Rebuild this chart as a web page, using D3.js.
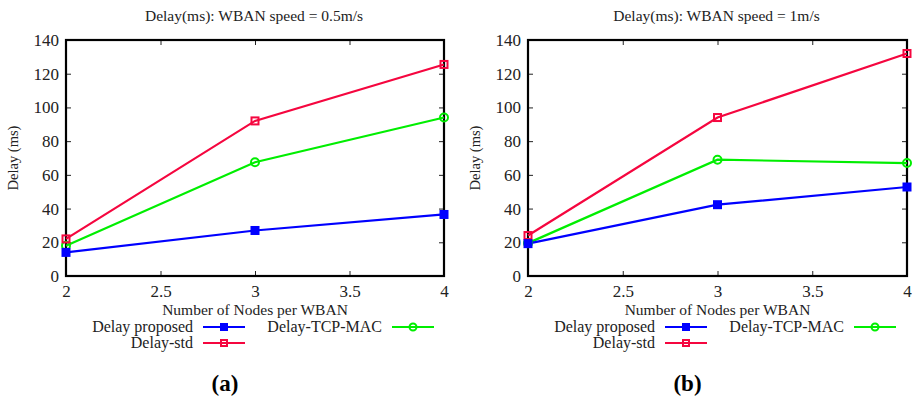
<!DOCTYPE html>
<html>
<head>
<meta charset="utf-8">
<script src="https://cdn.jsdelivr.net/npm/d3@7"></script>
<style>
  body { margin: 0; background: #fff; }
</style>
</head>
<body>
<script>
// data
var nodes = [2, 3, 4];
var xTicks = [2, 2.5, 3, 3.5, 4];
var yTicks = [0, 20, 40, 60, 80, 100, 120, 140];
var seriesNames = ["Delay proposed", "Delay-std", "Delay-TCP-MAC"];

var proposedA = [14, 27, 36.5];
var stdA = [22, 92, 125.5];
var tcpA = [18, 67.5, 94];

var proposedB = [19.2, 42.3, 52.8];
var stdB = [24, 94, 132];
var tcpB = [19.5, 69, 67];

var titles = ["Delay(ms): WBAN speed = 0.5m/s", "Delay(ms): WBAN speed = 1m/s"];
var panelTags = ["(a)", "(b)"];

var colours = ["#0000ff", "#f5063f", "#00ee00"];
var serif = "'Liberation Serif', 'Times New Roman', 'DejaVu Serif', serif";

var width = 916, height = 399;

var svg = d3.select("body")
            .append("svg")
            .attr("width", width)
            .attr("height", height);

function addText(g, x, y, size, str, anchor){
  return g.append("text")
          .attr("x", x).attr("y", y)
          .attr("text-anchor", anchor || "middle")
          .attr("font-family", serif)
          .attr("font-size", size)
          .attr("fill", "#222")
          .text(str);
}

function drawMarker(g, kind, x, y, colour, size){
  if (kind == 0){
    g.append("rect")
     .attr("x", x - size/2).attr("y", y - size/2)
     .attr("width", size).attr("height", size)
     .attr("fill", colour);
  }
  else if (kind == 1){
    g.append("rect")
     .attr("x", x - size/2 + 1).attr("y", y - size/2 + 1)
     .attr("width", size - 2).attr("height", size - 2)
     .attr("fill", "none").attr("stroke", colour).attr("stroke-width", 2);
  }
  else{
    g.append("circle")
     .attr("cx", x).attr("cy", y).attr("r", size/2 - 0.5)
     .attr("fill", "none").attr("stroke", colour).attr("stroke-width", 2);
  }
}

function drawPanel(left, right, seriesList, title, tag){
  var top = 40, bottom = 276;

  var x = d3.scaleLinear().domain([2, 4]).range([left, right]);
  var y = d3.scaleLinear().domain([0, 140]).range([bottom, top]);

  var g = svg.append("g");

  addText(g, (left + right)/2 - 1, 21, 15.5, title);

  // axes with inward ticks, mirrored on top and right
  var bottomAxis = d3.axisBottom(x).tickValues(xTicks).tickSize(-5).tickPadding(9)
                     .tickFormat(d3.format("~g"));
  var topAxis = d3.axisTop(x).tickValues(xTicks).tickSize(-5).tickFormat("");
  var leftAxis = d3.axisLeft(y).tickValues(yTicks).tickSize(-5).tickPadding(7);
  var rightAxis = d3.axisRight(y).tickValues(yTicks).tickSize(-5).tickFormat("");

  [[bottomAxis, "translate(0," + bottom + ")"],
   [topAxis, "translate(0," + top + ")"],
   [leftAxis, "translate(" + left + ",0)"],
   [rightAxis, "translate(" + right + ",0)"]].forEach(function(a){
    var ax = g.append("g").attr("transform", a[1]).call(a[0])
              .attr("font-family", serif).attr("font-size", 17);
    ax.select(".domain").remove();
    ax.selectAll(".tick line").attr("stroke", "#222").attr("stroke-width", 1);
    ax.selectAll(".tick text").attr("fill", "#222");
  });

  // frame
  g.append("rect")
   .attr("x", left).attr("y", top)
   .attr("width", right - left).attr("height", bottom - top)
   .attr("fill", "none").attr("stroke", "#000").attr("stroke-width", 2.2);

  // axis labels
  addText(g, 0, 0, 14.5, "Delay (ms)")
   .attr("transform", "translate(" + (left - 48) + "," + ((top + bottom)/2) + ") rotate(-90)");

  addText(g, (left + right)/2, 315, 15.5, "Number of Nodes per WBAN");

  var line = d3.line()
               .x(function(d, i){ return x(nodes[i]); })
               .y(function(d){ return y(d); });

  var order = [2, 1, 0];
  order.forEach(function(s){
    g.append("path")
     .attr("d", line(seriesList[s]))
     .attr("fill", "none")
     .attr("stroke", colours[s])
     .attr("stroke-width", 2.2);
  });
  order.forEach(function(s){
    seriesList[s].forEach(function(v, i){
      drawMarker(g, s, x(nodes[i]), y(v), colours[s], 9);
    });
  });

  // legend
  var legX = [left + 137, left + 137, left + 326];
  var legY = [327, 343, 327];
  seriesNames.forEach(function(name, s){
    addText(g, legX[s] - 10, legY[s] + 5, 16, name, "end");
    g.append("line")
     .attr("x1", legX[s]).attr("x2", legX[s] + 42)
     .attr("y1", legY[s]).attr("y2", legY[s])
     .attr("stroke", colours[s]).attr("stroke-width", 2.2);
    drawMarker(g, s, legX[s] + 21, legY[s], colours[s], 8);
  });

  // panel tag
  addText(g, (left + right)/2 - 30, 391, 23, tag)
   .attr("font-weight", "bold")
   .attr("fill", "#000");
}

drawPanel(66, 444, [proposedA, stdA, tcpA], titles[0], panelTags[0]);
drawPanel(528, 907, [proposedB, stdB, tcpB], titles[1], panelTags[1]);
</script>
</body>
</html>
